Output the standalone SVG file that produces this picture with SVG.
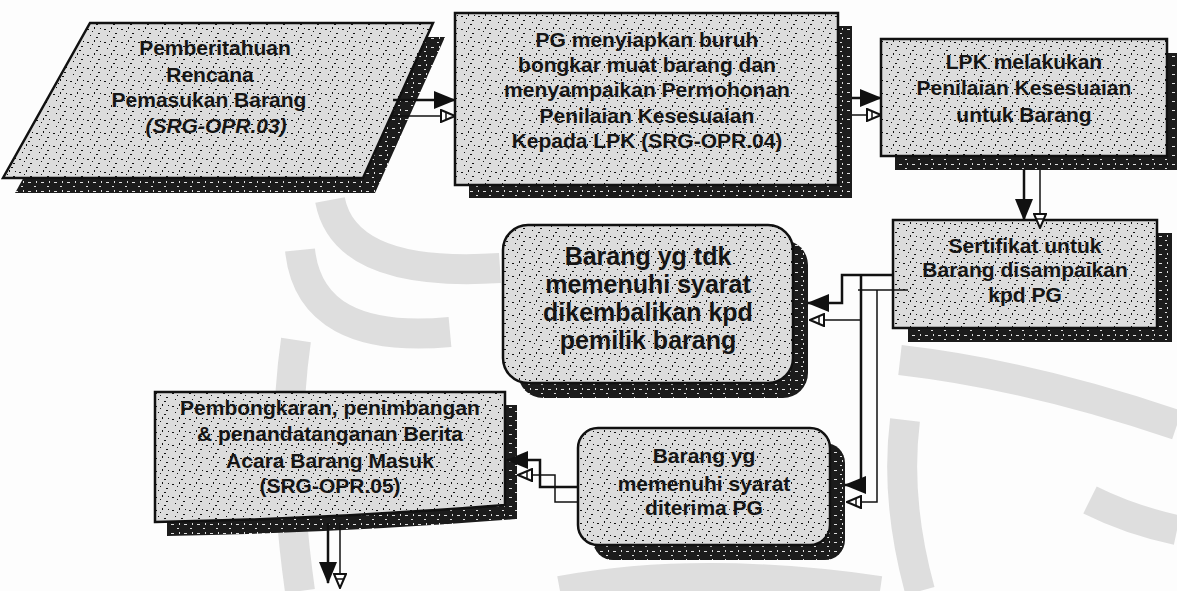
<svg xmlns="http://www.w3.org/2000/svg" width="1177" height="591" viewBox="0 0 1177 591">
<defs>
<pattern id="stip" width="17" height="13" patternUnits="userSpaceOnUse">
<rect width="17" height="13" fill="#dcdcdc"/>
<rect x="2" y="3" width="2" height="1" fill="#111"/>
<rect x="9" y="1" width="1" height="2" fill="#111"/>
<rect x="13" y="7" width="2" height="1" fill="#111"/>
<rect x="5" y="9" width="1" height="1" fill="#111"/>
<rect x="11" y="11" width="2" height="1" fill="#111"/>
<rect x="7" y="5" width="1" height="1" fill="#111"/>
<rect x="15" y="2" width="1" height="1" fill="#111"/>
</pattern>
<pattern id="dark" width="13" height="9" patternUnits="userSpaceOnUse">
<rect width="13" height="9" fill="#1c1c1c"/>
<rect x="2" y="2" width="3" height="1" fill="#e0e0e0"/>
<rect x="8" y="6" width="2" height="1" fill="#e0e0e0"/>
<rect x="10" y="1" width="1" height="2" fill="#e0e0e0"/>
</pattern>
<marker id="fa" viewBox="0 0 22 18" refX="21" refY="9" markerWidth="22" markerHeight="18" markerUnits="userSpaceOnUse" orient="auto">
<path d="M0,0 L22,9 L0,18 Z" fill="#111"/>
</marker>
<marker id="oa" viewBox="0 0 16 14" refX="15" refY="7" markerWidth="16" markerHeight="14" markerUnits="userSpaceOnUse" orient="auto">
<path d="M1,1 L15,7 L1,13 Z" fill="#fff" stroke="#111" stroke-width="2"/>
<path d="M6,3 V11" stroke="#111" stroke-width="1.5"/>
</marker>
<style>
.box{fill:url(#stip);stroke:#111;stroke-width:2.5}
.sh{fill:url(#dark);stroke:none}
.t{font-family:"Liberation Sans",Arial,sans-serif;font-weight:bold;font-size:21px;fill:#151515;text-anchor:middle}
.big{font-size:25px}
.thick{fill:none;stroke:#111;stroke-width:2.5}
.thin{fill:none;stroke:#111;stroke-width:1.5}
.wm{fill:none;stroke:#dedede;stroke-width:30}
</style>
</defs>
<rect width="1177" height="591" fill="#fdfdfd"/>
<g id="watermark">
<path class="wm" d="M330,200 Q345,278 500,268"/>
<path class="wm" d="M300,250 Q310,345 450,332"/>
<path class="wm" d="M296,340 Q280,450 300,591"/>
<path class="wm" d="M900,360 Q1030,375 1177,425"/>
<path class="wm" d="M905,420 Q895,500 920,591"/>
<path class="wm" d="M1090,500 Q1130,520 1177,530"/>
<path class="wm" d="M560,591 Q700,565 880,591"/>
</g>
<g id="n1">
<polygon class="sh" points="102,37 445,37 375,193 15,193"/>
<polygon class="box" points="90,23 433,23 363,178 3,178"/>
<text class="t" x="215" y="55">Pemberitahuan</text>
<text class="t" x="210" y="82">Rencana</text>
<text class="t" x="209" y="107">Pemasukan Barang</text>
<text class="t" x="216" y="133" font-style="italic">(SRG-OPR.03)</text>
</g>
<g id="n2">
<rect class="sh" x="469" y="26" width="383" height="172"/>
<rect class="box" x="455" y="13" width="383" height="172"/>
<text class="t" x="647" y="47">PG menyiapkan buruh</text>
<text class="t" x="647" y="72">bongkar muat barang dan</text>
<text class="t" x="647" y="97">menyampaikan Permohonan</text>
<text class="t" x="647" y="123">Penilaian Kesesuaian</text>
<text class="t" x="647" y="148">Kepada LPK (SRG-OPR.04)</text>
</g>
<g id="n3">
<rect class="sh" x="895" y="53" width="282" height="117"/>
<rect class="box" x="881" y="39" width="286" height="117"/>
<text class="t" x="1024" y="69">LPK melakukan</text>
<text class="t" x="1024" y="95">Penilaian Kesesuaian</text>
<text class="t" x="1024" y="122">untuk Barang</text>
</g>
<g id="n4">
<rect class="sh" x="908" y="233" width="264" height="109"/>
<rect class="box" x="893" y="220" width="264" height="108"/>
<text class="t" x="1025" y="253">Sertifikat untuk</text>
<text class="t" x="1025" y="277">Barang disampaikan</text>
<text class="t" x="1025" y="302">kpd PG</text>
</g>
<g id="n5">
<rect class="sh" x="518" y="240" width="290" height="158" rx="25"/>
<rect class="box" x="503" y="225" width="290" height="158" rx="25"/>
<text class="t big" x="648" y="265">Barang yg tdk</text>
<text class="t big" x="648" y="293">memenuhi syarat</text>
<text class="t big" x="648" y="321">dikembalikan kpd</text>
<text class="t big" x="648" y="349">pemilik barang</text>
</g>
<g id="n6">
<rect class="sh" x="593" y="443" width="252" height="117" rx="20"/>
<rect class="box" x="578" y="428" width="252" height="117" rx="20"/>
<text class="t" x="704" y="463">Barang yg</text>
<text class="t" x="704" y="491">memenuhi syarat</text>
<text class="t" x="704" y="515">diterima PG</text>
</g>
<g id="n7">
<path class="sh" d="M167,405 H517 V519 Q342,533 167,536 Z"/>
<path class="box" d="M155,392 H505 V505 Q330,519 155,522 Z"/>
<text class="t" x="330" y="415">Pembongkaran, penimbangan</text>
<text class="t" x="330" y="441">&amp; penandatanganan Berita</text>
<text class="t" x="330" y="468">Acara Barang Masuk</text>
<text class="t" x="330" y="493">(SRG-OPR.05)</text>
</g>
<g id="connectors">
<path class="thick" d="M393,100 H455" marker-end="url(#fa)"/>
<path class="thin" d="M390,116 H455" marker-end="url(#oa)"/>
<path class="thick" d="M852,98 H881" marker-end="url(#fa)"/>
<path class="thin" d="M852,115 H881" marker-end="url(#oa)"/>
<path class="thick" d="M1024,170 V220" marker-end="url(#fa)"/>
<path class="thin" d="M1040,170 V228" marker-end="url(#oa)"/>
<path class="thick" d="M893,275 H842 V303 H808" marker-end="url(#fa)"/>
<path class="thin" d="M860,320 H810" marker-end="url(#oa)"/>
<path class="thick" d="M861,275 V485 H845" marker-end="url(#fa)"/>
<path class="thin" d="M908,290 H858"/>
<path class="thin" d="M877,290 V502 H847" marker-end="url(#oa)"/>
<path class="thick" d="M578,487 H540 V460 H507" marker-end="url(#fa)"/>
<path class="thin" d="M578,502 H555 V475 H518" marker-end="url(#oa)"/>
<path class="thick" d="M328,523 V583" marker-end="url(#fa)"/>
<path class="thin" d="M340,523 V588" marker-end="url(#oa)"/>
</g>
</svg>
